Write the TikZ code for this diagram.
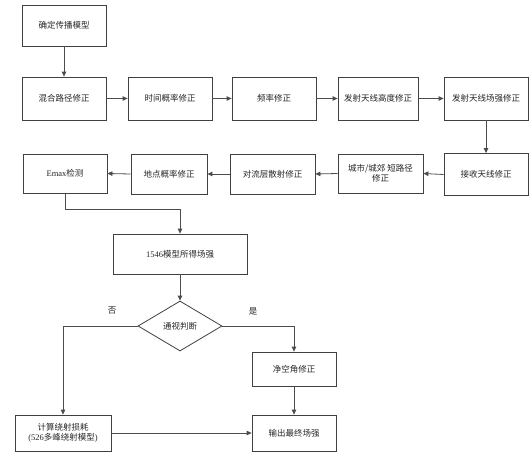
\documentclass[tikz,border=0pt]{standalone}
\usepackage{fontspec}
\newfontfamily\cjk{Noto Sans CJK SC}
\newfontfamily\lat{Liberation Serif}
\usetikzlibrary{arrows.meta,shapes.geometric}
\begin{document}
\begin{tikzpicture}[x=1pt,y=-1pt,
  box/.style={draw=black!75,line width=0.8pt,rectangle,inner sep=1pt,align=center,font=\fontsize{8.5}{10}\selectfont\cjk,text=black!85,minimum width=84pt,minimum height=42pt},
  dia/.style={draw=black!75,line width=0.8pt,diamond,inner sep=0pt,minimum width=84pt,minimum height=50pt,font=\fontsize{8.5}{10}\selectfont\cjk,text=black!85},
  lab/.style={font=\fontsize{8.5}{10}\selectfont\cjk,text=black!85},
  conn/.style={draw=black!70,line width=0.8pt,-{Triangle[length=5pt,width=4.5pt]}}]
\useasboundingbox (0,0) rectangle (532,455);
\node[box,minimum height=41pt] (n1) at (64,25.5) {确定传播模型};
\node[box,minimum height=43pt] (r1) at (64,98.5) {混合路径修正};
\node[box,minimum height=43pt] (r2) at (170,98.5) {时间概率修正};
\node[box,minimum height=43pt] (r3) at (274,98.5) {频率修正};
\node[box,minimum height=43pt,minimum width=80pt] (r4) at (378,98.5) {发射天线高度修正};
\node[box,minimum height=43pt] (r5) at (486,98.5) {发射天线场强修正};
\node[box] (s1) at (486,174.5) {接收天线修正};
\node[box,minimum width=85pt,minimum height=39pt] (s2) at (380.5,173.5) {城市/城郊 短路径\\修正};
\node[box,minimum width=85pt,minimum height=40pt] (s3) at (272.5,174) {对流层散射修正};
\node[box,minimum width=76pt,minimum height=40pt] (s4) at (169,174) {地点概率修正};
\node[box,minimum height=39pt] (s5) at (65,173.5) {{\lat Emax}检测};
\node[box,minimum width=134pt,minimum height=40pt] (m) at (180,254) {{\lat 1546}模型所得场强};
\node[dia] (d) at (180,326) {通视判断};
\node[box,minimum width=96pt,minimum height=36pt] (c1) at (63,433) {计算绕射损耗\\{\lat (526}多峰绕射模型{\lat )}};
\node[box,minimum height=34pt] (q) at (294,369) {净空角修正};
\node[box,minimum height=36pt] (o) at (294,433) {输出最终场强};
\node[lab] (no) at (112,311) {否};
\node[lab] (yes) at (253,311) {是};
\coordinate (k) at (180,209);
\draw[conn] (n1.south) -- (r1.north);
\draw[conn] (r1.east) -- (r2.west);
\draw[conn] (r2.east) -- (r3.west);
\draw[conn] (r3.east) -- (r4.west);
\draw[conn] (r4.east) -- (r5.west);
\draw[conn] (r5.south) -- (s1.north);
\draw[conn] (s1.west) -- (s2.east);
\draw[conn] (s2.west) -- (s3.east);
\draw[conn] (s3.west) -- (s4.east);
\draw[conn] (s4.west) -- (s5.east);
\draw[conn] (s5.south) |- (k) -- (m.north);
\draw[conn] (m.south) -- (d.north);
\draw[conn] (d.west) -| (c1.north);
\draw[conn] (d.east) -| (q.north);
\draw[conn] (q.south) -- (o.north);
\draw[conn] (c1.east) -- (o.west);
\end{tikzpicture}
\end{document}
